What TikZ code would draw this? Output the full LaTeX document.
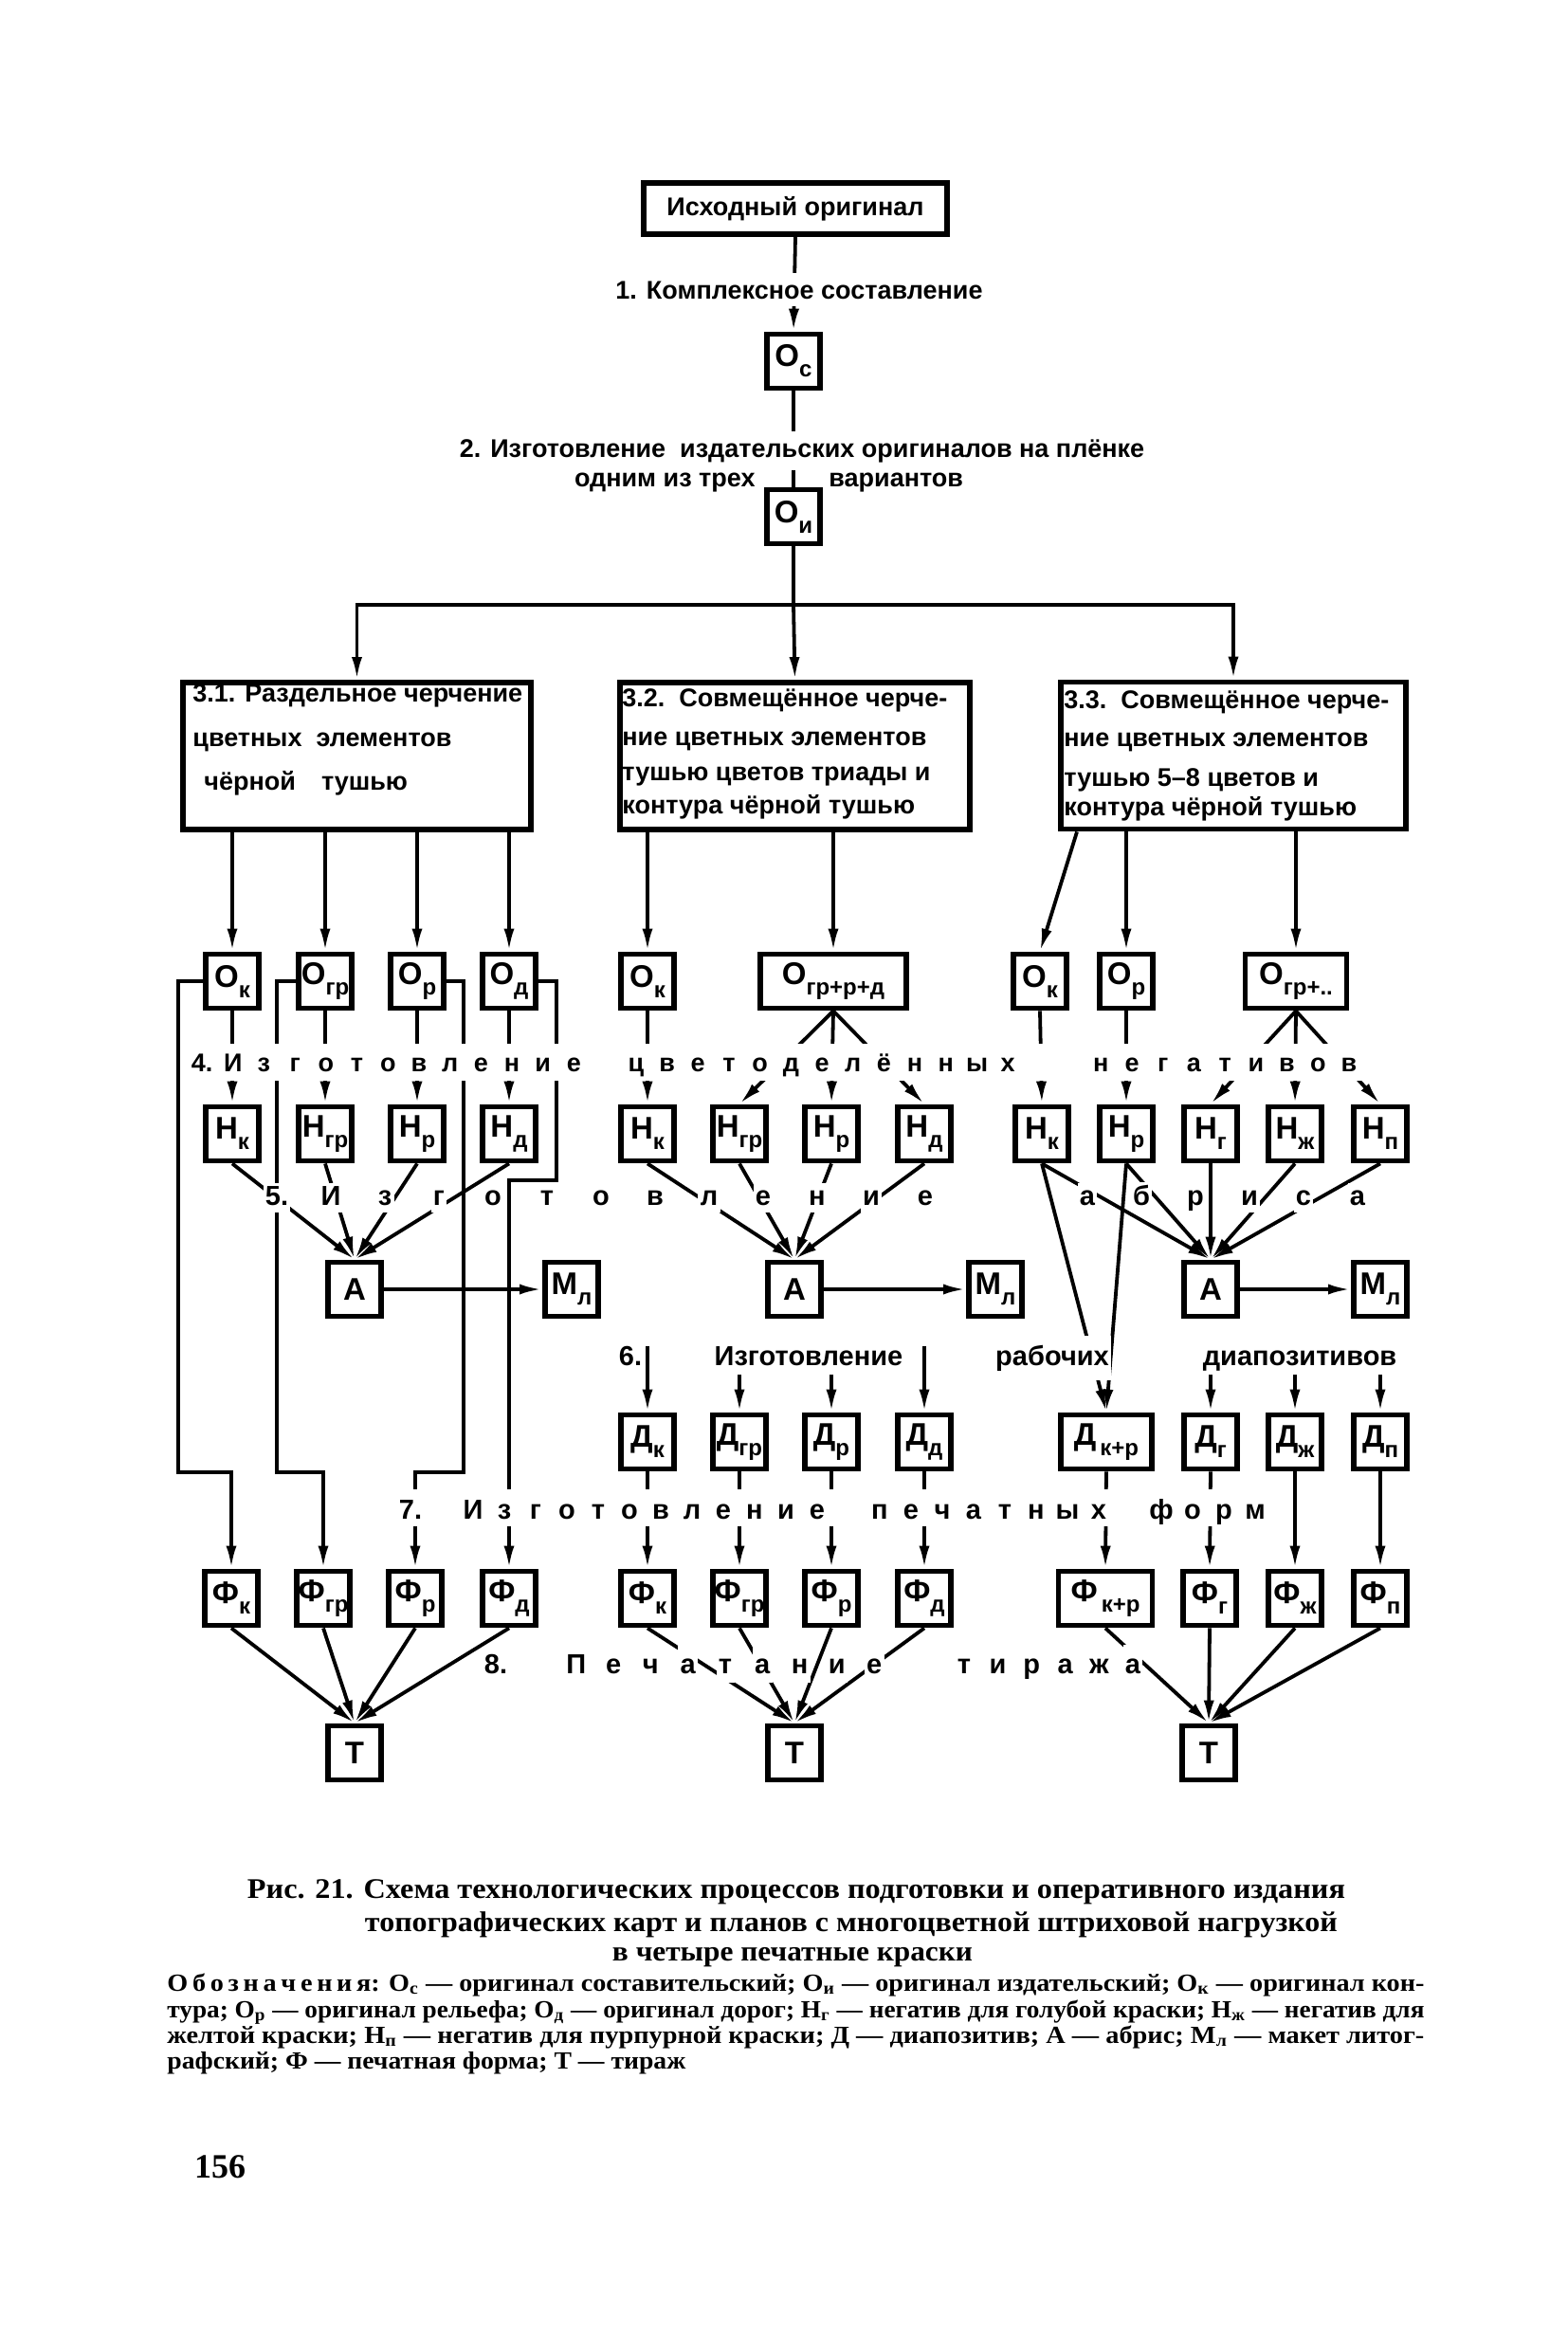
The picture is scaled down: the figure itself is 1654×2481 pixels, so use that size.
\documentclass[tikz,border=0pt]{standalone}
\usepackage{fontspec}
\setmainfont{Liberation Sans}
\newfontfamily\serifb{Liberation Serif}
\usepackage{graphicx}
\usetikzlibrary{arrows.meta}

\newcommand\lblf{\fontsize{16.5}{16.5}\selectfont\bfseries}
\newcommand\boxf{\fontsize{13.5}{16}\selectfont\bfseries}
\newcommand\rowf{\fontsize{13.5}{16}\selectfont\bfseries}
\newcommand\sixf{\fontsize{14.5}{16}\selectfont\bfseries}
\newcommand\capf{\serifb\bfseries\fontsize{15}{17}\selectfont}
\newcommand\legf{\serifb\bfseries\fontsize{13}{15}\selectfont}
\newcommand\lab[2]{#1\raisebox{-5.5pt}{\fontsize{12}{12}\selectfont #2}}

\newlength\pitchlen \newlength\knht \newlength\kndp
\newcommand\knock[1]{{\setlength\fboxsep{1.2pt}\colorbox{white}{\rule[-\kndp]{0pt}{\dimexpr\knht+\kndp\relax}#1}}}
\def\spcloop#1{\ifx#1\relax\else\ifx#1*\hspace*{\pitchlen}\else\makebox[\pitchlen]{\knock{#1}}\fi\expandafter\spcloop\fi}
\newcommand\spcrow[4]{\setlength\pitchlen{#1}\setlength\knht{#2}\setlength\kndp{#3}\spcloop#4\relax}

\begin{document}
\begin{tikzpicture}[x=0.5pt,y=-0.5pt]
\tikzset{
  bx/.style={draw, line width=2.8pt, minimum width=28.2pt, minimum height=28.6pt, inner sep=0pt, font=\lblf},
  con/.style={line width=1.9pt},
  arr/.style={line width=1.9pt, -{Latex[length=12pt,width=5.5pt]}},
  tx/.style={inner sep=0pt, font=\boxf},
}
\fill[white] (0,0) rectangle (1654,2481);
\useasboundingbox (0,0) rectangle (1654,2481);

% ---------- boxes ----------
\node[bx, minimum width=160.2pt, minimum height=27.2pt, font=\boxf] (title) at (839,220) {Исходный оригинал};
\node[bx] (Oc) at (837,381) {\lab{О}{с}};
\node[bx] (Oi) at (837,545) {\lab{О}{и}};
\node[bx, minimum width=183.6pt, minimum height=77.6pt] (b31) at (376.5,797.5) {};
\node[bx, minimum width=184.6pt, minimum height=77.6pt] (b32) at (838.5,797.5) {};
\node[bx, minimum width=182.2pt, minimum height=77.6pt] (b33) at (1301,797) {};

% originals
\node[bx] (Ok1) at (245,1035) {\lab{О}{к}};
\node[bx] (Ogr1) at (343,1035) {\lab{О}{гр}};
\node[bx] (Or1) at (440,1035) {\lab{О}{р}};
\node[bx] (Od1) at (537,1035) {\lab{О}{д}};
\node[bx] (Ok2) at (683,1035) {\lab{О}{к}};
\node[bx, minimum width=77.2pt] (Ogrpd) at (879,1035) {\lab{О}{гр+р+д}};
\node[bx] (Ok3) at (1097,1035) {\lab{О}{к}};
\node[bx] (Or3) at (1188,1035) {\lab{О}{р}};
\node[bx, minimum width=53.6pt] (Ogrx) at (1367,1035) {\lab{О}{гр+..}};

% negatives
\node[bx] (Nk1) at (245,1196) {\lab{Н}{к}};
\node[bx] (Ngr1) at (343,1196) {\lab{Н}{гр}};
\node[bx] (Nr1) at (440,1196) {\lab{Н}{р}};
\node[bx] (Nd1) at (537,1196) {\lab{Н}{д}};
\node[bx] (Nk2) at (683,1196) {\lab{Н}{к}};
\node[bx] (Ngr2) at (780,1196) {\lab{Н}{гр}};
\node[bx] (Nr2) at (877,1196) {\lab{Н}{р}};
\node[bx] (Nd2) at (975,1196) {\lab{Н}{д}};
\node[bx] (Nk3) at (1099,1196) {\lab{Н}{к}};
\node[bx] (Nr3) at (1188,1196) {\lab{Н}{р}};
\node[bx] (Ng3) at (1277,1196) {\lab{Н}{г}};
\node[bx] (Nzh3) at (1366,1196) {\lab{Н}{ж}};
\node[bx] (Np3) at (1456,1196) {\lab{Н}{п}};

% abris and maket
\node[bx] (A1) at (374,1360) {А};
\node[bx] (M1) at (603,1360) {\lab{М}{л}};
\node[bx] (A2) at (838,1360) {А};
\node[bx] (M2) at (1050,1360) {\lab{М}{л}};
\node[bx] (A3) at (1277,1360) {А};
\node[bx] (M3) at (1456,1360) {\lab{М}{л}};

% diapositives
\node[bx] (Dk2) at (683,1521) {\lab{Д}{к}};
\node[bx] (Dgr2) at (780,1521) {\lab{Д}{гр}};
\node[bx] (Dr2) at (877,1521) {\lab{Д}{р}};
\node[bx] (Dd2) at (975,1521) {\lab{Д}{д}};
\node[bx, minimum width=48.1pt] (Dkr3) at (1167,1521) {\lab{Д}{\,к+р}};
\node[bx] (Dg3) at (1277,1521) {\lab{Д}{г}};
\node[bx] (Dzh3) at (1366,1521) {\lab{Д}{ж}};
\node[bx] (Dp3) at (1456,1521) {\lab{Д}{п}};

% printing forms
\node[bx] (Fk1) at (244,1686) {\lab{Ф}{к}};
\node[bx] (Fgr1) at (341,1686) {\lab{Ф}{гр}};
\node[bx] (Fr1) at (438,1686) {\lab{Ф}{р}};
\node[bx] (Fd1) at (537,1686) {\lab{Ф}{д}};
\node[bx] (Fk2) at (683,1686) {\lab{Ф}{к}};
\node[bx] (Fgr2) at (780,1686) {\lab{Ф}{гр}};
\node[bx] (Fr2) at (877,1686) {\lab{Ф}{р}};
\node[bx] (Fd2) at (975,1686) {\lab{Ф}{д}};
\node[bx, minimum width=49.6pt] (Fkr3) at (1166,1686) {\lab{Ф}{\,к+р}};
\node[bx] (Fg3) at (1276,1686) {\lab{Ф}{г}};
\node[bx] (Fzh3) at (1366,1686) {\lab{Ф}{ж}};
\node[bx] (Fp3) at (1456,1686) {\lab{Ф}{п}};

% print runs
\node[bx] (T1) at (374,1849) {Т};
\node[bx] (T2) at (838,1849) {Т};
\node[bx] (T3) at (1275,1849) {Т};

% ---------- connectors ----------
\draw[arr] (title.south) -- (Oc.north);
\draw[con] (Oc.south) -- (Oi.north);
\coordinate (hb) at (837,638);
\draw[con] (Oi.south) -- (hb);
\draw[arr] (hb) -| (b31.north);
\draw[arr] (hb) -- (b32.north);
\draw[arr] (hb) -| (b33.north);

\foreach \n in {Ok1,Ogr1,Or1,Od1} \draw[arr] (b31.south -| \n.north) -- (\n.north);
\foreach \n in {Ok2,Ogrpd} \draw[arr] (b32.south -| \n.north) -- (\n.north);
\draw[arr] ([xshift=10pt]b33.south west) -- (Ok3.north);
\foreach \n in {Or3,Ogrx} \draw[arr] (b33.south -| \n.north) -- (\n.north);

% O -> N
\draw[arr] (Ok1.south) -- (Nk1.north);
\draw[arr] (Ogr1.south) -- (Ngr1.north);
\draw[arr] (Or1.south) -- (Nr1.north);
\draw[arr] (Od1.south) -- (Nd1.north);
\draw[arr] (Ok2.south) -- (Nk2.north);
\foreach \n in {Ngr2,Nr2,Nd2} \draw[arr] (Ogrpd.south) -- (\n.north);
\draw[arr] (Ok3.south) -- (Nk3.north);
\draw[arr] (Or3.south) -- (Nr3.north);
\foreach \n in {Ng3,Nzh3,Np3} \draw[arr] (Ogrx.south) -- (\n.north);

% bypass lines of variant 3.1
\draw[arr] (Ok1.west) -| (188,1553) -| (Fk1.north);
\draw[arr] (Ogr1.west) -| (292,1553) -| (Fgr1.north);
\draw[arr] (Or1.east) -| (489,1553) -| (Fr1.north);
\draw[arr] (Od1.east) -| (587,1245) -| (Fd1.north);

% N -> A
\foreach \n in {Nk1,Ngr1,Nr1,Nd1} \draw[arr] (\n.south) -- (A1.north);
\foreach \n in {Nk2,Ngr2,Nr2,Nd2} \draw[arr] (\n.south) -- (A2.north);
\foreach \n in {Nk3,Nr3,Ng3,Nzh3,Np3} \draw[arr] (\n.south) -- (A3.north);
\draw[arr] (Nk3.south) -- (Dkr3.north);
\draw[arr] (Nr3.south) -- (Dkr3.north);

% A -> M
\draw[arr] (A1.east) -- (M1.west);
\draw[arr] (A2.east) -- (M2.west);
\draw[arr] (A3.east) -- (M3.west);

% arrows into diapositives
\coordinate (sDk) at (683,1420);
\coordinate (sDgr) at (780,1450);
\coordinate (sDr) at (877,1450);
\coordinate (sDd) at (975,1420);
\coordinate (sDg) at (1277,1450);
\coordinate (sDzh) at (1366,1450);
\coordinate (sDp) at (1456,1450);
\draw[arr] (sDk) -- (Dk2.north);
\draw[arr] (sDgr) -- (Dgr2.north);
\draw[arr] (sDr) -- (Dr2.north);
\draw[arr] (sDd) -- (Dd2.north);
\draw[arr] (sDg) -- (Dg3.north);
\draw[arr] (sDzh) -- (Dzh3.north);
\draw[arr] (sDp) -- (Dp3.north);

% D -> F
\draw[arr] (Dk2.south) -- (Fk2.north);
\draw[arr] (Dgr2.south) -- (Fgr2.north);
\draw[arr] (Dr2.south) -- (Fr2.north);
\draw[arr] (Dd2.south) -- (Fd2.north);
\draw[arr] (Dkr3.south) -- (Fkr3.north);
\draw[arr] (Dg3.south) -- (Fg3.north);
\draw[arr] (Dzh3.south) -- (Fzh3.north);
\draw[arr] (Dp3.south) -- (Fp3.north);

% F -> T
\foreach \n in {Fk1,Fgr1,Fr1,Fd1} \draw[arr] (\n.south) -- (T1.north);
\foreach \n in {Fk2,Fgr2,Fr2,Fd2} \draw[arr] (\n.south) -- (T2.north);
\foreach \n in {Fkr3,Fg3,Fzh3,Fp3} \draw[arr] (\n.south) -- (T3.north);

% ---------- texts ----------
\node[font=\boxf, fill=white, inner xsep=2pt, inner ysep=4pt, anchor=base] (t1) at (843,315) {1. Комплексное составление};
\node[font=\boxf, fill=white, inner xsep=2pt, inner ysep=4pt, anchor=base] (t2) at (846,482) {2. Изготовление\ \ издательских оригиналов на плёнке};
\node[tx, anchor=base east] (t3) at (797,513) {одним из трех};
\node[tx, anchor=base west] (t4) at (874,513) {вариантов};

\node[tx, anchor=base west] (b31a) at (203,740) {3.1. Раздельное черчение};
\node[tx, anchor=base west] (b31b) at (203,787) {цветных\ \ элементов};
\node[tx, anchor=base west] (b31c) at (215,833) {чёрной\quad тушью};

\node[tx, anchor=base west] (b32a) at (656,745) {3.2.\ \ Совмещённое черче-};
\node[tx, anchor=base west] (b32b) at (656,786) {ние цветных элементов};
\node[tx, anchor=base west] (b32c) at (656,823) {тушью цветов триады и};
\node[tx, anchor=base west] (b32d) at (656,858) {контура чёрной тушью};

\node[tx, anchor=base west] (b33a) at (1122,747) {3.3.\ \ Совмещённое черче-};
\node[tx, anchor=base west] (b33b) at (1122,787) {ние цветных элементов};
\node[tx, anchor=base west] (b33c) at (1122,829) {тушью 5–8 цветов и};
\node[tx, anchor=base west] (b33d) at (1122,860) {контура чёрной тушью};

\node[inner sep=0pt, fill=white, font=\rowf, anchor=base] (r4) at (818,1130)
  {\spcrow{16.35pt}{13.5pt}{4pt}{{4.}Изготовление*цветоделённых**негативов}};
\node[inner sep=0pt, font=\sixf, anchor=base] (r5) at (862,1271)
  {\spcrow{28.5pt}{10.5pt}{3pt}{{5.}Изготовление**абриса}};

\node[tx, font=\sixf, anchor=base] (r6a) at (665,1440) {6.};
\node[tx, font=\sixf, anchor=base] (r6b) at (853,1440) {Изготовление};
\node[font=\sixf, fill=white, inner xsep=1pt, inner ysep=5pt, anchor=base] (r6c) at (1110,1440) {рабочих};
\node[tx, font=\sixf, anchor=base] (r6d) at (1371,1440) {диапозитивов};

\node[inner sep=0pt, fill=white, font=\sixf, anchor=base] (r7) at (878.5,1602)
  {\spcrow{16.5pt}{14.5pt}{3pt}{{7.}*Изготовление*печатных*форм}};

\node[tx, font=\sixf, anchor=base] (r8n) at (523,1765) {8.};
\node[inner sep=0pt, font=\sixf, anchor=base] (r8a) at (765,1765) {\spcrow{19.65pt}{14pt}{4pt}{Печатание}};
\node[inner sep=0pt, font=\sixf, anchor=base] (r8b) at (1106,1765) {\spcrow{17.8pt}{14pt}{4pt}{тиража}};

% caption and legend
\node[inner sep=0pt, anchor=base] (cap1) at (840,2002) {\resizebox{579pt}{\height}{\capf Рис. 21. Схема технологических процессов подготовки и оперативного издания}};
\node[inner sep=0pt, anchor=base] (cap2) at (898,2037) {\resizebox{513pt}{\height}{\capf топографических карт и планов с многоцветной штриховой нагрузкой}};
\node[inner sep=0pt, anchor=base] (cap3) at (836,2068) {\resizebox{190pt}{\height}{\capf в четыре печатные краски}};

\node[inner sep=0pt, anchor=base west] (leg1) at (176,2100) {\resizebox{663pt}{\height}{\legf О\,б\,о\,з\,н\,а\,ч\,е\,н\,и\,я: О\textsubscript{с} — оригинал составительский; О\textsubscript{и} — оригинал издательский; О\textsubscript{к} — оригинал кон-}};
\node[inner sep=0pt, anchor=base west] (leg2) at (176,2128) {\resizebox{663pt}{\height}{\legf тура; О\textsubscript{р} — оригинал рельефа; О\textsubscript{д} — оригинал дорог; Н\textsubscript{г} — негатив для голубой краски; Н\textsubscript{ж} — негатив для}};
\node[inner sep=0pt, anchor=base west] (leg3) at (176,2155) {\resizebox{663pt}{\height}{\legf желтой краски; Н\textsubscript{п} — негатив для пурпурной краски; Д — диапозитив; А — абрис; М\textsubscript{л} — макет литог-}};
\node[inner sep=0pt, anchor=base west] (leg4) at (176,2182) {\resizebox{273.5pt}{\height}{\legf рафский; Ф — печатная форма; Т — тираж}};

\node[inner sep=0pt, anchor=base, font=\serifb\bfseries\fontsize{18}{18}\selectfont] (pg) at (232,2297) {156};
\end{tikzpicture}
\end{document}
